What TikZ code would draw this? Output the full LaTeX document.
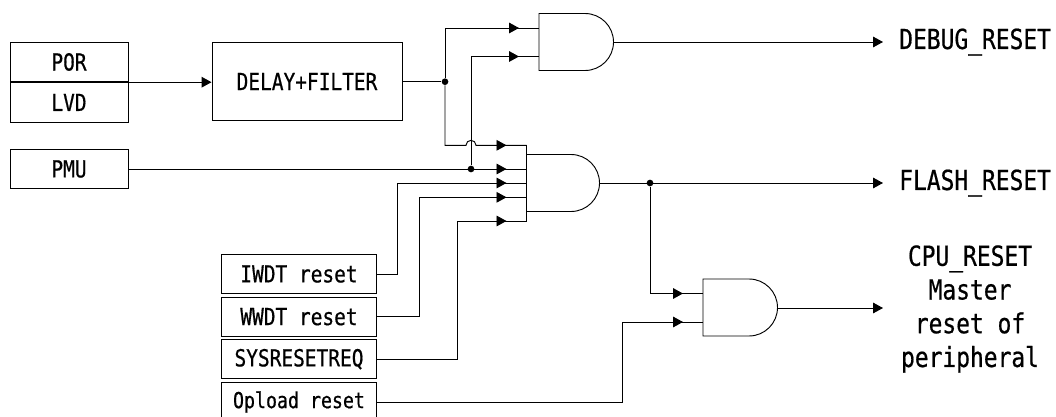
\documentclass[tikz,border=0pt]{standalone}
\usepackage{fontspec}
\setmonofont[FakeStretch=0.83,FakeBold=0.6]{DejaVu Sans Mono}
\usetikzlibrary{arrows.meta,positioning,calc}

\begin{document}
\begin{tikzpicture}[
  x=0.75pt, y=-0.75pt,
  font=\ttfamily,
  box/.style={draw, line width=0.7pt, inner sep=0pt, font=\fontsize{17.6}{18}\ttfamily},
  lbl/.style={inner sep=0pt, align=center, font=\fontsize{20.7}{25.3}\ttfamily},
  arr/.style={-{Triangle[length=7.5pt,width=8pt]}, line width=0.7pt},
  wire/.style={line width=0.7pt},
  dot/.style={circle, fill=black, inner sep=0pt, minimum size=5pt}
]
  \useasboundingbox (0,0) rectangle (1056,417);

  % left boxes
  \node[box, minimum width=88.5pt, minimum height=29.6pt] (por) at (69,62) {POR};
  \node[box, minimum width=88.5pt, minimum height=29.6pt, below=0pt of por] (lvd) {LVD};
  \node[box, minimum width=142.5pt, minimum height=59.2pt] (delay) at (307,81.5) {DELAY+FILTER};
  \node[box, minimum width=88.5pt, minimum height=29.6pt] (pmu) at (69,169) {PMU};

  % reset sources
  \node[box, minimum width=116pt, minimum height=29pt] (iwdt) at (299,274) {IWDT reset};
  \node[box, minimum width=116pt, minimum height=29pt] (wwdt) at (299,316.7) {WWDT reset};
  \node[box, minimum width=116pt, minimum height=29pt] (sysreq) at (299,359.2) {SYSRESETREQ};
  \node[box, minimum width=116pt, minimum height=29pt, font=\fontsize{16.5}{18}\ttfamily] (opload) at (299,402) {Opload reset};

  % gates
  \draw[wire] (539,13.5) -- (585,13.5) arc[start angle=90, end angle=-90, radius=28.5*0.75pt] -- (539,70.5) -- cycle;
  \draw[wire] (526.7,154.5) -- (571,154.5) arc[start angle=90, end angle=-90, radius=28.5*0.75pt] -- (526.7,211.5);
  \draw[wire] (703,279) -- (749,279) arc[start angle=90, end angle=-90, radius=28.5*0.75pt] -- (703,336) -- cycle;
  \draw[wire] (526.7,145.3) -- (526.7,221);

  % coordinates of gate pins
  \coordinate (g1in1) at (539,28);
  \coordinate (g1in2) at (539,56.5);
  \coordinate (g1out) at (613.5,42);
  \coordinate (g2in1) at (526.7,145.3);
  \coordinate (g2in2) at (526.7,169);
  \coordinate (g2in3) at (526.7,183);
  \coordinate (g2in4) at (526.7,197.3);
  \coordinate (g2in5) at (526.7,221);
  \coordinate (g2out) at (599.5,183);
  \coordinate (g3in1) at (703,293.5);
  \coordinate (g3in2) at (703,322);
  \coordinate (g3out) at (777.5,308);

  % outputs
  \node[lbl, anchor=west] (debug) at (899,42) {DEBUG\_RESET};
  \node[lbl, anchor=west] (flash) at (899,183) {FLASH\_RESET};
  \node[lbl] (cpu) at (970,309) {CPU\_RESET\\Master\\reset of\\peripheral};
  \coordinate (dbgend) at (883,42);
  \coordinate (flsend) at (883,183);
  \coordinate (cpuend) at (883,308);

  \node[dot] (d1) at (445,81.7) {};
  \node[dot] (d2) at (471,169) {};
  \node[dot] (d3) at (650,183) {};

  \draw[arr] (por.south east) -- (delay.west |- por.south east);
  \draw[wire] (delay.east |- d1) -- (d1);

  % tips sit ahead of the pins, line runs on
  \draw[wire] (d1) |- (g1in1);
  \draw[arr] (d1 |- g1in1) -- (519,28);
  \draw[wire] (d2) |- (g1in2);
  \draw[arr] (d2 |- g1in2) -- (519,56.5);
  \draw[wire] (d1) |- ($(d2 |- g2in1)+(-5,0)$) arc[start angle=180, end angle=0, radius=5*0.75pt] -- (g2in1);
  \draw[arr] (476,145.3) -- (506.5,145.3);
  \draw[wire] (pmu) -- (g2in2);
  \draw[arr] (d2) -- (506.5,169);

  \draw[wire] (iwdt) -| (397,183) -- (g2in3);
  \draw[arr] (397,183) -- (506.5,183);
  \draw[wire] (wwdt) -| (419,197.3) -- (g2in4);
  \draw[arr] (419,197.3) -- (506.5,197.3);
  \draw[wire] (sysreq) -| (457,221) -- (g2in5);
  \draw[arr] (457,221) -- (506.5,221);

  \draw[wire] (d3) |- (g3in1);
  \draw[arr] (d3 |- g3in1) -- (683,293.5);
  \draw[wire] (opload) -| (622,322) -- (g3in2);
  \draw[arr] (622,322) -- (683,322);

  \draw[arr] (g1out) -- (dbgend);
  \draw[arr] (g2out) -- (flsend);
  \draw[arr] (g3out) -- (cpuend);
\end{tikzpicture}
\end{document}
